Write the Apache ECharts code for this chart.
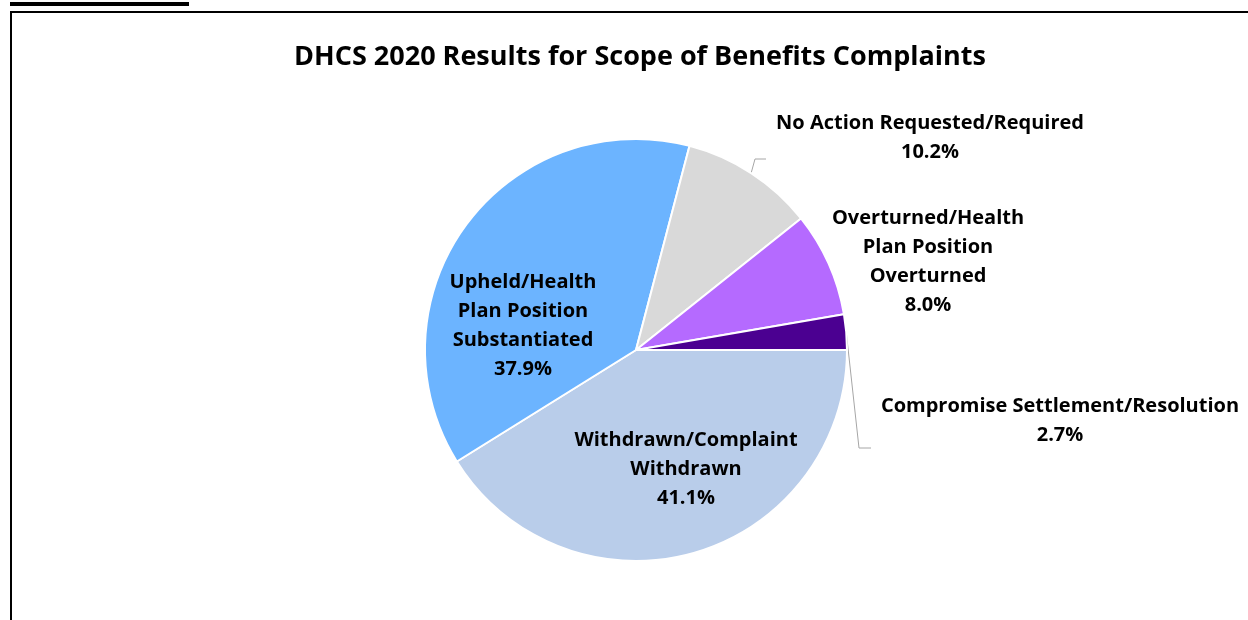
<!DOCTYPE html>
<html>
<head>
<meta charset="utf-8">
<script src="https://cdn.jsdelivr.net/npm/echarts@6/dist/echarts.min.js"></script>
<style>
  html, body { margin: 0; padding: 0; background: #fff; }
  #chart { width: 1248px; height: 620px; }
</style>
</head>
<body>
<div id="chart"></div>
<script>
// Outcome categories and their shares (%)
const categories = [
  'Withdrawn/Complaint\nWithdrawn',
  'Upheld/Health\nPlan Position\nSubstantiated',
  'No Action Requested/Required',
  'Overturned/Health\nPlan Position\nOverturned',
  'Compromise Settlement/Resolution'
];
const shares = [41.1, 37.9, 10.2, 8.0, 2.7];
const colors = ['#B9CDEA', '#6CB4FF', '#D9D9D9', '#B56AFF', '#4B0091'];

const chart = echarts.init(document.getElementById('chart'), null, { renderer: 'canvas' });

// Where each label sits (center of text block) and whether it has a leader line
const labelSpots = [
  { x: 686, y: 469, line: false },
  { x: 523, y: 326, line: false },
  { x: 930, y: 138, line: true, bend: [755, 159], end: [766, 159] },
  { x: 928, y: 262, line: false },
  { x: 1060, y: 421, line: true, bend: [859, 448], end: [871, 448] }
];

const font = '"Open Sans", sans-serif';

chart.setOption({
  animation: false,
  title: {
    text: 'DHCS 2020 Results for Scope of Benefits Complaints',
    left: 635,
    top: 52,
    textAlign: 'center',
    textVerticalAlign: 'middle',
    textStyle: { fontFamily: font, fontSize: 27, fontWeight: 'bold', color: '#000' }
  },
  graphic: [
    {
      type: 'rect',
      shape: { x: 11, y: 12, width: 1300, height: 700 },
      style: { fill: 'none', stroke: '#000', lineWidth: 2 }
    },
    {
      type: 'rect',
      shape: { x: 10, y: 2, width: 179, height: 4 },
      style: { fill: '#000' }
    }
  ],
  series: [{
    type: 'pie',
    center: [636, 350],
    radius: 211,
    startAngle: 0,
    clockwise: true,
    avoidLabelOverlap: false,
    itemStyle: { borderColor: '#fff', borderWidth: 2 },
    label: {
      show: true,
      position: 'outside',
      formatter: p => p.name + '\n' + p.value.toFixed(1) + '%',
      fontFamily: font,
      fontSize: 20,
      fontWeight: 'bold',
      color: '#000',
      lineHeight: 29,
      align: 'center'
    },
    labelLine: {
      show: true,
      lineStyle: { color: '#A6A6A6', width: 1 }
    },
    labelLayout: function (params) {
      const s = labelSpots[params.dataIndex];
      const out = { x: s.x, y: s.y, align: 'center', verticalAlign: 'middle' };
      if (s.line && params.labelLinePoints) {
        const start = params.labelLinePoints[0];
        out.labelLinePoints = [start, s.bend, s.end];
      }
      return out;
    },
    data: categories.map((name, i) => ({
      name: name,
      value: shares[i],
      itemStyle: { color: colors[i] },
      labelLine: { show: labelSpots[i].line }
    }))
  }]
});
</script>
</body>
</html>
